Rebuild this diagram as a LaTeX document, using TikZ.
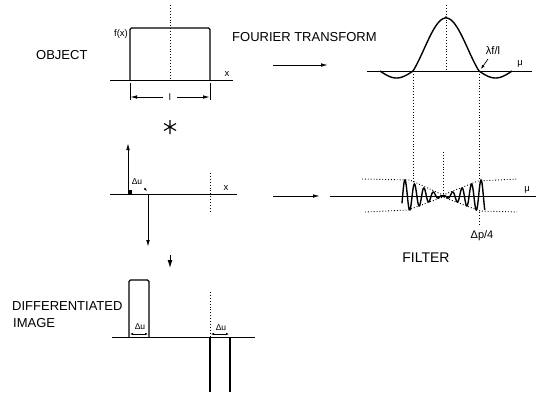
\documentclass[tikz,border=0pt]{standalone}
\usepackage{fontspec}
\setmainfont{Liberation Sans}
\usetikzlibrary{arrows.meta}

\begin{document}
\begin{tikzpicture}[
  x=1pt, y=-1pt,
  >={Latex[length=7pt, width=3.6pt]},
  axis/.style={line width=1pt},
  curve/.style={line width=1.4pt},
  guide/.style={dotted, line width=0.9pt},
  flow/.style={->, line width=1pt},
  dim/.style={{Latex[length=3pt, width=2.4pt]}-{Latex[length=3pt, width=2.4pt]}, line width=0.6pt},
  bigtxt/.style={font=\fontsize{13}{15}\selectfont, inner sep=0pt, align=left},
  smalltxt/.style={font=\fontsize{9.5}{11}\selectfont, inner sep=0pt},
  tinytxt/.style={font=\fontsize{8.5}{10}\selectfont, inner sep=0pt},
]
\useasboundingbox (0,0) rectangle (536,392);

% ============ object row (top) ============
\node[bigtxt, anchor=west] (obj) at (36,55) {OBJECT};
\node[smalltxt] (fx) at (121,34) {f(x)};
\draw[axis] (110,80) -- (233,80);
\draw[curve, rounded corners=1.5pt] (130,80) -- (130,28) -- (210,28) -- (210,80);
\draw[guide] (170,5) -- (170,80);
\node[smalltxt] (xo) at (227,74) {x};
% width of the slit
\draw[axis] (130,83) -- (130,100) (210,83) -- (210,100);
\node[smalltxt] (len) at (170,97) {l};
\draw[flow] ([xshift=-6pt]len.west) -- (130,97);
\draw[flow] ([xshift=6pt]len.east) -- (210,97);
% convolution sign
\coordinate (conv) at (170,127);
\draw[line width=1.1pt] (conv) +(0,-7) -- +(0,7)
  +(-6,-3.5) -- +(6,3.5) +(-6,3.5) -- +(6,-3.5);

% ---- Fourier transform ----
\node[bigtxt, anchor=west] (ft) at (232,37) {FOURIER TRANSFORM};
\coordinate (fta) at (273,65);
\coordinate (ftb) at (328,65);
\draw[flow] (fta) -- (ftb);
\draw[axis] (367,71) -- (532,71);
\draw[curve] plot[domain=-1.001:1.001, samples=81, smooth]
  ({446+33*\x}, {71-53*sin(180*\x)/(3.14159*\x)});
\draw[curve] plot[domain=1:2, samples=30, smooth] ({446+33*\x}, {71+7*sin(180*(\x-1))});
\draw[curve] plot[domain=-2:-1, samples=30, smooth] ({446+33*\x}, {71+7*sin(180*(-\x-1))});
\draw[guide] (446,5) -- (446,71);
\node[smalltxt] (mu1) at (520,64) {μ};
\node[font=\fontsize{11}{12}\selectfont, inner sep=0pt] (lam) at (493,51) {λf/l};
\draw[->, >={Latex[length=4pt, width=3pt]}, line width=0.7pt] (488,59) -- (481,69);
\draw[guide] (413,71) -- (413,183);
\draw[guide] (479,71) -- (479,181);

% ============ impulse row (middle) ============
\draw[axis] (110,194) -- (237,194);
\draw[flow] (128,194) -- (128,143);
\draw[flow] (148,194) -- (148,247);
\fill (128,190) rectangle (132,194);
\node[tinytxt] (du1) at (137,182) {Δu};
\draw[->, >={Latex[length=3pt, width=2.4pt]}, line width=0.6pt] (144,188) -- (147,191);
\draw[guide] (210,173) -- (210,213);
\node[smalltxt] (xm) at (226,188) {x};
\draw[->, >={Latex[length=8pt, width=5pt]}, line width=1pt] (170,255) -- (170,268);

% ---- filter ----
\coordinate (fia) at (273,196);
\coordinate (fib) at (320,196);
\draw[flow] (fia) -- (fib);
\draw[axis] (330,196) -- (536,196);
\node[smalltxt] (mu2) at (527,190) {μ};
\draw[guide] (362,179) -- (410,180) -- (443,195) -- (478,181) -- (517,179);
\draw[guide] (365,212) -- (408,210) -- (443,197) -- (480,211) -- (517,212);
\draw[guide] (443,152) -- (443,196);
\draw[guide] (479,212) -- (479,226);
\draw[curve] plot[domain=-1.08:1.1, samples=220, smooth]
  ({443+38*\x}, {196-16*abs(\x)*cos(1440*\x)});
\node[font=\fontsize{11}{12}\selectfont, inner sep=0pt] (dp) at (482,236) {Δp/4};
\node[font=\fontsize{14}{16}\selectfont, inner sep=0pt] (filt) at (426,258) {FILTER};

% ============ differentiated image (bottom) ============
\node[bigtxt, anchor=west] (dimg) at (12,306) {DIFFERENTIATED};
\node[bigtxt, anchor=west] (img) at (13,323) {IMAGE};
\draw[axis] (112,337) -- (255,337);
\draw[curve, rounded corners=1.5pt] (129,337) -- (129,280) -- (149,280) -- (149,337);
\draw[curve] (210,337) -- (210,392) (230,337) -- (230,392);
\draw[guide] (210,292) -- (210,337);
\node[tinytxt] (du2) at (140,327) {Δu};
\draw[dim] (130,334) -- (148,334);
\node[tinytxt] (du3) at (221,328) {Δu};
\draw[dim] (211,334) -- (229,334);

\end{tikzpicture}
\end{document}
